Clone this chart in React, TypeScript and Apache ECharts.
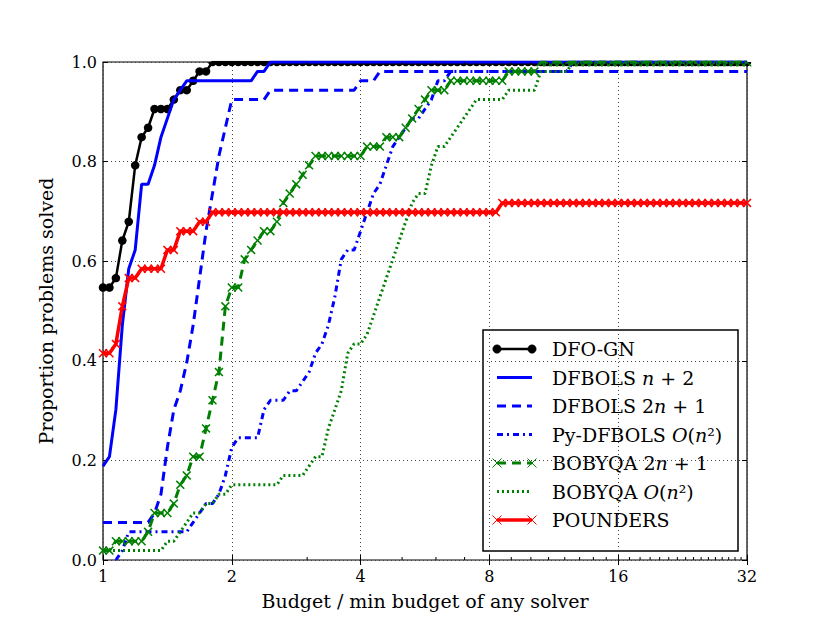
import React, { useEffect, useRef } from "react";
import * as echarts from "echarts";

// Budget ratios (tau) at which the profiles were sampled
const tau = [
  1, 1.0353, 1.0718, 1.1096, 1.1487, 1.1892, 1.2311, 1.2746, 1.3195, 1.366,
  1.4142, 1.4641, 1.5157, 1.5692, 1.6245, 1.6818, 1.7411, 1.8025, 1.8661, 1.9319,
  2, 2.0705, 2.1435, 2.2191, 2.2974, 2.3784, 2.4623, 2.5491, 2.639, 2.7321,
  2.8284, 2.9282, 3.0314, 3.1383, 3.249, 3.3636, 3.4822, 3.605, 3.7321, 3.8637,
  4, 4.1411, 4.2871, 4.4383, 4.5948, 4.7568, 4.9246, 5.0982, 5.278, 5.4642,
  5.6569, 5.8563, 6.0629, 6.2767, 6.498, 6.7272, 6.9644, 7.21, 7.4643, 7.7275,
  8, 8.2821, 8.5742, 8.8766, 9.1896, 9.5137, 9.8492, 10.1965, 10.5561, 10.9283,
  11.3137, 11.7127, 12.1257, 12.5533, 12.996, 13.4543, 13.9288, 14.42, 14.9285, 15.455,
  16, 16.5642, 17.1484, 17.7532, 18.3792, 19.0273, 19.6983, 20.393, 21.1121, 21.8566,
  22.6274, 23.4254, 24.2515, 25.1067, 25.9921, 26.9087, 27.8576, 28.84, 29.857, 30.9099,
  32,
];

const nProblems = 53;

// Number of problems solved at each tau
const dfoGN = [
  29, 29, 30, 34, 36, 42, 45, 46, 48, 48,
  48, 49, 50, 50, 51, 52, 52, 53, 53, 53,
  53, 53, 53, 53, 53, 53, 53, 53, 53, 53,
  53, 53, 53, 53, 53, 53, 53, 53, 53, 53,
  53, 53, 53, 53, 53, 53, 53, 53, 53, 53,
  53, 53, 53, 53, 53, 53, 53, 53, 53, 53,
  53, 53, 53, 53, 53, 53, 53, 53, 53, 53,
  53, 53, 53, 53, 53, 53, 53, 53, 53, 53,
  53, 53, 53, 53, 53, 53, 53, 53, 53, 53,
  53, 53, 53, 53, 53, 53, 53, 53, 53, 53,
  53,
];
const dfbolsN2 = [
  10, 11, 16, 25, 31, 33, 40, 40, 42, 45,
  47, 49, 50, 51, 51, 51, 51, 51, 51, 51,
  51, 51, 51, 51, 52, 52, 53, 53, 53, 53,
  53, 53, 53, 53, 53, 53, 53, 53, 53, 53,
  53, 53, 53, 53, 53, 53, 53, 53, 53, 53,
  53, 53, 53, 53, 53, 53, 53, 53, 53, 53,
  53, 53, 53, 53, 53, 53, 53, 53, 53, 53,
  53, 53, 53, 53, 53, 53, 53, 53, 53, 53,
  53, 53, 53, 53, 53, 53, 53, 53, 53, 53,
  53, 53, 53, 53, 53, 53, 53, 53, 53, 53,
  53,
];
const dfbols2N1 = [
  4, 4, 4, 4, 4, 4, 4, 4, 5, 7,
  12, 16, 18, 21, 25, 30, 35, 39, 43, 46,
  49, 49, 49, 49, 49, 49, 50, 50, 50, 50,
  50, 50, 50, 50, 50, 50, 50, 50, 50, 50,
  51, 51, 51, 52, 52, 52, 52, 52, 52, 52,
  52, 52, 52, 52, 52, 52, 52, 52, 52, 52,
  52, 52, 52, 52, 52, 52, 52, 52, 52, 52,
  52, 52, 52, 52, 52, 52, 52, 52, 52, 52,
  52, 52, 52, 52, 52, 52, 52, 52, 52, 52,
  52, 52, 52, 52, 52, 52, 52, 52, 52, 52,
  52,
];
const pyDfbols = [
  null, null, 0, 1, 3, 3, 3, 3, 3, 3,
  3, 3, 3, 3, 4, 5, 6, 6, 7, 9,
  12, 13, 13, 13, 13, 16, 17, 17, 17, 18,
  18, 19, 20, 22, 23, 25, 28, 32, 33, 33,
  35, 37, 39, 40, 42, 44, 45, 46, 47, 47,
  48, 49, 51, 51, 52, 52, 52, 52, 52, 52,
  52, 52, 52, 52, 52, 52, 52, 52, 52, 52,
  52, 52, 52, 53, 53, 53, 53, 53, 53, 53,
  53, 53, 53, 53, 53, 53, 53, 53, 53, 53,
  53, 53, 53, 53, 53, 53, 53, 53, 53, 53,
  53,
];
const bobyqa2N1 = [
  1, 1, 2, 2, 2, 2, 2, 3, 5, 5,
  5, 6, 8, 9, 11, 11, 14, 17, 20, 27,
  29, 29, 32, 33, 34, 35, 35, 36, 38, 39,
  40, 41, 42, 43, 43, 43, 43, 43, 43, 43,
  43, 44, 44, 44, 45, 45, 45, 46, 47, 48,
  49, 50, 50, 50, 51, 51, 51, 51, 51, 51,
  51, 51, 51, 52, 52, 52, 52, 52, 53, 53,
  53, 53, 53, 53, 53, 53, 53, 53, 53, 53,
  53, 53, 53, 53, 53, 53, 53, 53, 53, 53,
  53, 53, 53, 53, 53, 53, 53, 53, 53, 53,
  53,
];
const bobyqaQuad = [
  1, 1, 1, 1, 1, 1, 1, 1, 1, 1,
  2, 2, 3, 4, 5, 5, 6, 6, 7, 7,
  8, 8, 8, 8, 8, 8, 8, 8, 9, 9,
  9, 9, 10, 11, 11, 14, 16, 18, 22, 23,
  23, 24, 26, 28, 30, 32, 34, 36, 38, 39,
  39, 42, 44, 44, 45, 46, 47, 48, 49, 49,
  49, 49, 49, 50, 50, 50, 50, 50, 52, 52,
  52, 52, 52, 53, 53, 53, 53, 53, 53, 53,
  53, 53, 53, 53, 53, 53, 53, 53, 53, 53,
  53, 53, 53, 53, 53, 53, 53, 53, 53, 53,
  53,
];
const pounders = [
  22, 22, 23, 27, 30, 30, 31, 31, 31, 31,
  33, 33, 35, 35, 35, 36, 36, 37, 37, 37,
  37, 37, 37, 37, 37, 37, 37, 37, 37, 37,
  37, 37, 37, 37, 37, 37, 37, 37, 37, 37,
  37, 37, 37, 37, 37, 37, 37, 37, 37, 37,
  37, 37, 37, 37, 37, 37, 37, 37, 37, 37,
  37, 37, 38, 38, 38, 38, 38, 38, 38, 38,
  38, 38, 38, 38, 38, 38, 38, 38, 38, 38,
  38, 38, 38, 38, 38, 38, 38, 38, 38, 38,
  38, 38, 38, 38, 38, 38, 38, 38, 38, 38,
  38,
];

// Minor tick positions on the log2 x-axis
const minorTicks = [
  3, 5, 6, 7, 9, 10, 11, 12, 13, 14, 15,
  17, 18, 19, 20, 21, 22, 23, 24, 25, 26, 27, 28, 29, 30, 31,
];

const FONT = "DejaVu Serif";
const BLUE = "#0000ff";
const GREEN = "#008000";
const RED = "#ff0000";

const XMARK =
  "path://M0,1.2L1.2,0L5,3.8L8.8,0L10,1.2L6.2,5L10,8.8L8.8,10L5,6.2L1.2,10L0,8.8L3.8,5Z";
const XMARK_HALF = "path://M4.2,0L5.8,0L10,4.2L10,5L8.8,5L5,1.2L1.2,5L0,5L0,4.2Z";
const DOT_HALF = "path://M0,0A5,5 0 0 0 10,0Z";

type Half = { symbol: string; size: number[]; offset: number[] } | null;

function toData(counts: (number | null)[], half: Half = null) {
  const out: any[] = [];
  counts.forEach((c, i) => {
    if (c === null) return;
    const v = c / nProblems;
    if (half && c === nProblems) {
      out.push({ value: [tau[i], v], symbol: half.symbol, symbolSize: half.size, symbolOffset: half.offset });
    } else {
      out.push([tau[i], v]);
    }
  });
  return out;
}

const legendItems = [
  { name: "DFO-GN", rich: "{t|DFO-GN}", color: "#000", dash: null as any, width: 2.5, marker: "dot" },
  { name: "DFBOLS n+2", rich: "{t|DFBOLS }{i|n}{t| + 2}", color: BLUE, dash: null, width: 3, marker: "" },
  { name: "DFBOLS 2n+1", rich: "{t|DFBOLS 2}{i|n}{t| + 1}", color: BLUE, dash: [9, 6], width: 3, marker: "" },
  { name: "Py-DFBOLS O(n2)", rich: "{t|Py-DFBOLS }{i|O}{t|(}{i|n}{t|²)}", color: BLUE, dash: [6, 4, 2, 4], width: 3, marker: "" },
  { name: "BOBYQA 2n+1", rich: "{t|BOBYQA 2}{i|n}{t| + 1}", color: GREEN, dash: [9, 6], width: 3, marker: "x" },
  { name: "BOBYQA O(n2)", rich: "{t|BOBYQA }{i|O}{t|(}{i|n}{t|²)}", color: GREEN, dash: [2, 3], width: 3, marker: "" },
  { name: "POUNDERS", rich: "{t|POUNDERS}", color: RED, dash: null, width: 3.5, marker: "x" },
];

function buildLegend() {
  const left = 483;
  const top = 330;
  const w = 255;
  const h = 221;
  const children: any[] = [
    { type: "rect", shape: { x: left, y: top, width: w, height: h }, style: { fill: "#fff", stroke: "#000", lineWidth: 1.5 } },
  ];
  legendItems.forEach((it, i) => {
    const cy = 349 + i * 28.5;
    const x1 = 497;
    const x2 = 532;
    children.push({
      type: "line",
      shape: { x1, y1: cy, x2, y2: cy },
      style: { stroke: it.color, lineWidth: it.width, lineDash: it.dash || undefined },
    });
    if (it.marker === "dot") {
      [x1, x2].forEach((x) =>
        children.push({ type: "circle", shape: { cx: x, cy, r: 4.2 }, style: { fill: it.color, stroke: it.color, lineWidth: 0.5 } })
      );
    } else if (it.marker === "x") {
      [x1, x2].forEach((x) => {
        children.push({ type: "line", shape: { x1: x - 4.5, y1: cy - 4.5, x2: x + 4.5, y2: cy + 4.5 }, style: { stroke: it.color, lineWidth: 1 } });
        children.push({ type: "line", shape: { x1: x - 4.5, y1: cy + 4.5, x2: x + 4.5, y2: cy - 4.5 }, style: { stroke: it.color, lineWidth: 1 } });
      });
    }
    children.push({
      type: "text",
      style: {
        x: 552,
        y: cy,
        text: it.rich,
        verticalAlign: "middle",
        align: "left",
        rich: {
          t: { fontFamily: FONT, fontSize: 19, fill: "#000" },
          i: { fontFamily: FONT, fontSize: 19, fontStyle: "italic", fill: "#000" },
        },
      },
    });
  });
  return [{ type: "group", z: 100, silent: true, children }];
}

const App: React.FC = () => {
  const ref = useRef<HTMLDivElement>(null);

  useEffect(() => {
    if (!ref.current) return;
    const chart = echarts.init(ref.current, undefined, { renderer: "svg" });

    const base = {
      type: "line",
      xAxisIndex: 0,
      yAxisIndex: 0,
      smooth: false,
      clip: true,
      silent: true,
      showAllSymbol: true,
      emphasis: { disabled: true },
      animation: false,
    };

    const axisLabelStyle = { fontFamily: FONT, fontSize: 16, color: "#000" };
    const splitStyle = { show: true, lineStyle: { color: "#444", width: 1, type: [1, 3] as any } };

    const option: any = {
      animation: false,
      textStyle: { fontFamily: FONT },
      grid: {
        left: 103,
        top: 62,
        width: 644,
        height: 498,
        show: true,
        borderColor: "#000",
        borderWidth: 1.2,
        backgroundColor: "transparent",
      },
      xAxis: [
        {
          type: "log",
          logBase: 2,
          min: 1,
          max: 32,
          splitNumber: 5,
          position: "bottom",
          axisLine: { show: false },
          axisTick: { show: true, inside: true, length: 5, lineStyle: { color: "#000", width: 1 } },
          axisLabel: { ...axisLabelStyle, margin: 8, formatter: (v: number) => String(Math.round(v)) },
          splitLine: splitStyle,
          name: "Budget / min budget of any solver",
          nameLocation: "middle",
          nameGap: 31,
          nameTextStyle: { fontFamily: FONT, fontSize: 19, color: "#000" },
        },
        {
          type: "log",
          logBase: 2,
          min: 1,
          max: 32,
          splitNumber: 5,
          position: "top",
          axisLine: { show: false },
          axisTick: { show: true, inside: true, length: 5, lineStyle: { color: "#000", width: 1 } },
          axisLabel: { show: false },
          splitLine: { show: false },
        },
      ],
      yAxis: [
        {
          type: "value",
          min: 0,
          max: 1,
          interval: 0.2,
          position: "left",
          axisLine: { show: false },
          axisTick: { show: true, inside: true, length: 5, lineStyle: { color: "#000", width: 1 } },
          axisLabel: { ...axisLabelStyle, margin: 6, formatter: (v: number) => v.toFixed(1) },
          splitLine: splitStyle,
          name: "Proportion problems solved",
          nameLocation: "middle",
          nameGap: 48,
          nameRotate: 90,
          nameTextStyle: { fontFamily: FONT, fontSize: 19, color: "#000" },
        },
        {
          type: "value",
          min: 0,
          max: 1,
          interval: 0.2,
          position: "right",
          axisLine: { show: false },
          axisTick: { show: true, inside: true, length: 5, lineStyle: { color: "#000", width: 1 } },
          axisLabel: { show: false },
          splitLine: { show: false },
        },
      ],
      series: [
        {
          ...base,
          name: "DFO-GN",
          data: toData(dfoGN, { symbol: DOT_HALF, size: [8.5, 4.25], offset: [0, 2.1] }),
          symbol: "circle",
          symbolSize: 8.5,
          itemStyle: { color: "#000" },
          lineStyle: { color: "#000", width: 2.5 },
          z: 2,
        },
        {
          ...base,
          name: "DFBOLS n+2",
          data: toData(dfbolsN2),
          symbol: "none",
          lineStyle: { color: BLUE, width: 3 },
          z: 3,
        },
        {
          ...base,
          name: "DFBOLS 2n+1",
          data: toData(dfbols2N1),
          symbol: "none",
          lineStyle: { color: BLUE, width: 3, type: [9, 6] },
          z: 4,
        },
        {
          ...base,
          name: "Py-DFBOLS O(n2)",
          data: toData(pyDfbols),
          symbol: "none",
          lineStyle: { color: BLUE, width: 3, type: [6, 4, 2, 4] },
          z: 5,
        },
        {
          ...base,
          name: "BOBYQA 2n+1",
          data: toData(bobyqa2N1, { symbol: XMARK_HALF, size: [9, 4.5], offset: [0, 2.2] }),
          symbol: XMARK,
          symbolSize: 9,
          itemStyle: { color: GREEN },
          lineStyle: { color: GREEN, width: 3, type: [9, 6] },
          z: 6,
        },
        {
          ...base,
          name: "BOBYQA O(n2)",
          data: toData(bobyqaQuad),
          symbol: "none",
          lineStyle: { color: GREEN, width: 3, type: [2, 3] },
          z: 7,
        },
        {
          ...base,
          name: "POUNDERS",
          data: toData(pounders),
          symbol: XMARK,
          symbolSize: 9,
          itemStyle: { color: RED },
          lineStyle: { color: RED, width: 3.5 },
          z: 8,
        },
        {
          type: "custom",
          name: "minor-ticks",
          xAxisIndex: 0,
          yAxisIndex: 0,
          silent: true,
          clip: false,
          z: 20,
          data: minorTicks.map((v) => [v, 0]),
          encode: { x: 0, y: 1 },
          renderItem: (params: any, api: any) => {
            const b = api.coord([api.value(0), 0]);
            const t = api.coord([api.value(0), 1]);
            return {
              type: "group",
              children: [
                { type: "line", shape: { x1: b[0], y1: b[1], x2: b[0], y2: b[1] - 3 }, style: { stroke: "#000", lineWidth: 1 } },
                { type: "line", shape: { x1: t[0], y1: t[1], x2: t[0], y2: t[1] + 3 }, style: { stroke: "#000", lineWidth: 1 } },
              ],
            };
          },
        },
      ],
      graphic: buildLegend(),
    };

    chart.setOption(option);
    return () => chart.dispose();
  }, []);

  return (
    <div
      ref={ref}
      style={{ position: "absolute", left: 0, top: 0, width: 830, height: 623, background: "#fff" }}
    />
  );
};

export default App;
